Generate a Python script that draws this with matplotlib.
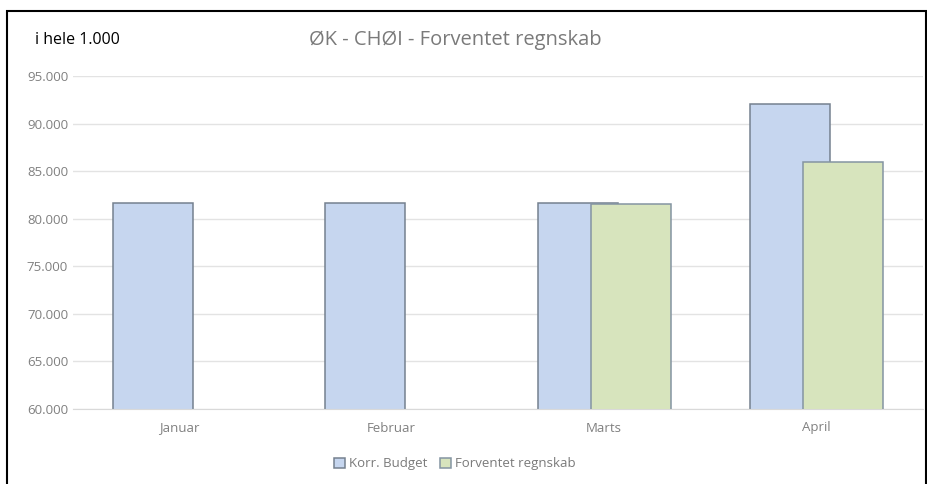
import matplotlib
matplotlib.use("Agg")
from matplotlib import pyplot as plt
from matplotlib.patches import Rectangle
import numpy as np

months = ["Januar", "Februar", "Marts", "April"]
korr_budget = [81700, 81700, 81700, 92100]
forventet = [0, 0, 81550, 86000]
y_ticks = [60000, 65000, 70000, 75000, 80000, 85000, 90000, 95000]

plt.rcParams['font.family'] = ['Open Sans', 'DejaVu Sans']

fig = plt.figure(figsize=(9.28, 4.84), dpi=100)
ax = fig.add_axes([73 / 928, 75 / 484, 850 / 928, 333 / 484])

x = np.arange(len(months))
w = 0.375
off = 0.125
ax.bar(x - off, korr_budget, w, color='#c6d6ef', edgecolor='#75818f',
       linewidth=1.1, label='Korr. Budget', zorder=2)
ax.bar(x + off, forventet, w, color='#d7e4bd', edgecolor='#8494a2',
       linewidth=1.1, label='Forventet regnskab', zorder=3)

ax.set_xlim(-0.5, 3.5)
ax.set_ylim(60000, 95000)
ax.set_yticks(y_ticks)
ax.set_yticklabels([f"{v:,}".replace(",", ".") for v in y_ticks])
ax.set_xticks(x)
ax.set_xticklabels(months)
ax.tick_params(length=0, colors='#808080', labelsize=9.5)
ax.tick_params(axis='x', pad=9)
ax.grid(axis='y', color='#e3e3e3', linewidth=1, zorder=0)
for s in ['top', 'right', 'left']:
    ax.spines[s].set_visible(False)
ax.spines['bottom'].set_color('#d9d9d9')

fig.text(35 / 928, 1 - 40 / 484, "i hele 1.000", fontsize=11.5, color='black', va='center')
fig.text(455 / 928, 1 - 40 / 484, "ØK - CHØI - Forventet regnskab", fontsize=14.5,
         color='#7a7a7a', ha='center', va='center')

leg = fig.legend(loc='center', bbox_to_anchor=(455 / 928, 1 - 464 / 484), ncol=2,
                 frameon=False, fontsize=9.5, handlelength=0.8, handleheight=0.8,
                 handletextpad=0.3, columnspacing=1.0)
for t in leg.get_texts():
    t.set_color('#7a7a7a')

fig.patches.append(Rectangle((7 / 928, -0.05), 919 / 928, 1.05 - 11 / 484,
                             transform=fig.transFigure, fill=False,
                             edgecolor='black', linewidth=1.5))

fig.savefig("out.png", dpi=100)
